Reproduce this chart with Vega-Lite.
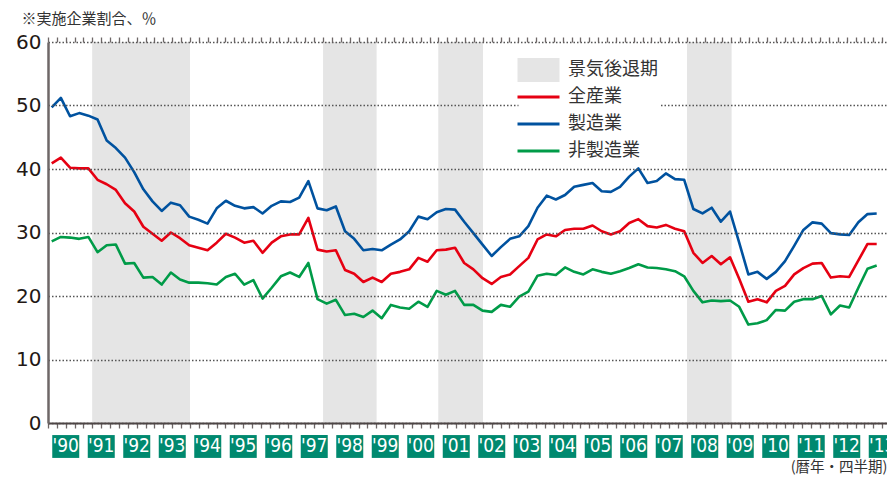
{
  "$schema": "https://vega.github.io/schema/vega-lite/v6.json",
  "background": "white",
  "autosize": {"type": "none"},
  "padding": {"left": 48, "top": 42, "right": 0, "bottom": 56},
  "width": 839,
  "height": 381,
  "title": {"text": "※実施企業割合、％", "anchor": "start", "frame": "bounds", "font": "Noto Sans CJK JP", "fontSize": 15, "fontWeight": "normal", "color": "#333333", "offset": 5, "dx": 6},
  "config": {"view": {"stroke": null}},
  "datasets": {
    "recessions": [
      {"start": 1991.25, "end": 1994.0},
      {"start": 1997.75, "end": 1999.25},
      {"start": 2001.0, "end": 2002.25},
      {"start": 2008.0, "end": 2009.25}
    ],
    "years": [
      {"start": 1990, "end": 1991, "label": "'90"}, {"start": 1991, "end": 1992, "label": "'91"},
      {"start": 1992, "end": 1993, "label": "'92"}, {"start": 1993, "end": 1994, "label": "'93"},
      {"start": 1994, "end": 1995, "label": "'94"}, {"start": 1995, "end": 1996, "label": "'95"},
      {"start": 1996, "end": 1997, "label": "'96"}, {"start": 1997, "end": 1998, "label": "'97"},
      {"start": 1998, "end": 1999, "label": "'98"}, {"start": 1999, "end": 2000, "label": "'99"},
      {"start": 2000, "end": 2001, "label": "'00"}, {"start": 2001, "end": 2002, "label": "'01"},
      {"start": 2002, "end": 2003, "label": "'02"}, {"start": 2003, "end": 2004, "label": "'03"},
      {"start": 2004, "end": 2005, "label": "'04"}, {"start": 2005, "end": 2006, "label": "'05"},
      {"start": 2006, "end": 2007, "label": "'06"}, {"start": 2007, "end": 2008, "label": "'07"},
      {"start": 2008, "end": 2009, "label": "'08"}, {"start": 2009, "end": 2010, "label": "'09"},
      {"start": 2010, "end": 2011, "label": "'10"}, {"start": 2011, "end": 2012, "label": "'11"},
      {"start": 2012, "end": 2013, "label": "'12"}, {"start": 2013, "end": 2014, "label": "'13"}
    ],
    "series": [
      {"t": 1990, "全産業": 40.9, "製造業": 49.7, "非製造業": 28.6},
      {"t": 1990.25, "全産業": 41.8, "製造業": 51.2, "非製造業": 29.3},
      {"t": 1990.5, "全産業": 40.2, "製造業": 48.3, "非製造業": 29.2},
      {"t": 1990.75, "全産業": 40.1, "製造業": 48.8, "非製造業": 29.0},
      {"t": 1991, "全産業": 40.1, "製造業": 48.4, "非製造業": 29.3},
      {"t": 1991.25, "全産業": 38.3, "製造業": 47.8, "非製造業": 26.9},
      {"t": 1991.5, "全産業": 37.6, "製造業": 44.5, "非製造業": 28.0},
      {"t": 1991.75, "全産業": 36.7, "製造業": 43.3, "非製造業": 28.1},
      {"t": 1992, "全産業": 34.6, "製造業": 41.8, "非製造業": 25.1},
      {"t": 1992.25, "全産業": 33.3, "製造業": 39.5, "非製造業": 25.2},
      {"t": 1992.5, "全産業": 30.9, "製造業": 36.8, "非製造業": 22.9},
      {"t": 1992.75, "全産業": 29.8, "製造業": 34.9, "非製造業": 23.0},
      {"t": 1993, "全産業": 28.7, "製造業": 33.4, "非製造業": 21.8},
      {"t": 1993.25, "全産業": 30.0, "製造業": 34.7, "非製造業": 23.7},
      {"t": 1993.5, "全産業": 29.1, "製造業": 34.3, "非製造業": 22.6},
      {"t": 1993.75, "全産業": 28.0, "製造業": 32.5, "非製造業": 22.1},
      {"t": 1994, "全産業": 27.6, "製造業": 32.0, "非製造業": 22.1},
      {"t": 1994.25, "全産業": 27.2, "製造業": 31.4, "非製造業": 22.0},
      {"t": 1994.5, "全産業": 28.4, "製造業": 33.8, "非製造業": 21.8},
      {"t": 1994.75, "全産業": 29.8, "製造業": 35.0, "非製造業": 23.0},
      {"t": 1995, "全産業": 29.2, "製造業": 34.2, "非製造業": 23.5},
      {"t": 1995.25, "全産業": 28.4, "製造業": 33.8, "非製造業": 21.8},
      {"t": 1995.5, "全産業": 28.7, "製造業": 34.0, "非製造業": 22.5},
      {"t": 1995.75, "全産業": 26.8, "製造業": 33.0, "非製造業": 19.6},
      {"t": 1996, "全産業": 28.4, "製造業": 34.2, "非製造業": 21.3},
      {"t": 1996.25, "全産業": 29.4, "製造業": 34.9, "非製造業": 23.1},
      {"t": 1996.5, "全産業": 29.7, "製造業": 34.8, "非製造業": 23.7},
      {"t": 1996.75, "全産業": 29.7, "製造業": 35.5, "非製造業": 23.0},
      {"t": 1997, "全産業": 32.3, "製造業": 38.1, "非製造業": 25.2},
      {"t": 1997.25, "全産業": 27.3, "製造業": 33.8, "非製造業": 19.5},
      {"t": 1997.5, "全産業": 27.0, "製造業": 33.5, "非製造業": 18.8},
      {"t": 1997.75, "全産業": 27.2, "製造業": 34.1, "非製造業": 19.4},
      {"t": 1998, "全産業": 24.1, "製造業": 30.2, "非製造業": 17.0},
      {"t": 1998.25, "全産業": 23.5, "製造業": 29.0, "非製造業": 17.2},
      {"t": 1998.5, "全産業": 22.2, "製造業": 27.2, "非製造業": 16.7},
      {"t": 1998.75, "全産業": 22.9, "製造業": 27.4, "非製造業": 17.7},
      {"t": 1999, "全産業": 22.2, "製造業": 27.2, "非製造業": 16.5},
      {"t": 1999.25, "全産業": 23.5, "製造業": 28.1, "非製造業": 18.6},
      {"t": 1999.5, "全産業": 23.8, "製造業": 28.9, "非製造業": 18.2},
      {"t": 1999.75, "全産業": 24.2, "製造業": 30.2, "非製造業": 18.0},
      {"t": 2000, "全産業": 26.0, "製造業": 32.5, "非製造業": 19.1},
      {"t": 2000.25, "全産業": 25.4, "製造業": 32.1, "非製造業": 18.3},
      {"t": 2000.5, "全産業": 27.2, "製造業": 33.2, "非製造業": 20.8},
      {"t": 2000.75, "全産業": 27.3, "製造業": 33.7, "非製造業": 20.2},
      {"t": 2001, "全産業": 27.6, "製造業": 33.6, "非製造業": 20.8},
      {"t": 2001.25, "全産業": 25.2, "製造業": 31.7, "非製造業": 18.6},
      {"t": 2001.5, "全産業": 24.2, "製造業": 29.9, "非製造業": 18.6},
      {"t": 2001.75, "全産業": 22.8, "製造業": 28.1, "非製造業": 17.7},
      {"t": 2002, "全産業": 21.9, "製造業": 26.3, "非製造業": 17.5},
      {"t": 2002.25, "全産業": 23.0, "製造業": 27.7, "非製造業": 18.6},
      {"t": 2002.5, "全産業": 23.4, "製造業": 29.0, "非製造業": 18.3},
      {"t": 2002.75, "全産業": 24.7, "製造業": 29.4, "非製造業": 19.9},
      {"t": 2003, "全産業": 26.0, "製造業": 31.0, "非製造業": 20.7},
      {"t": 2003.25, "全産業": 28.9, "製造業": 33.9, "非製造業": 23.2},
      {"t": 2003.5, "全産業": 29.7, "製造業": 35.8, "非製造業": 23.5},
      {"t": 2003.75, "全産業": 29.4, "製造業": 35.2, "非製造業": 23.3},
      {"t": 2004, "全産業": 30.4, "製造業": 35.9, "非製造業": 24.5},
      {"t": 2004.25, "全産業": 30.6, "製造業": 37.2, "非製造業": 23.8},
      {"t": 2004.5, "全産業": 30.6, "製造業": 37.5, "非製造業": 23.4},
      {"t": 2004.75, "全産業": 31.1, "製造業": 37.8, "非製造業": 24.2},
      {"t": 2005, "全産業": 30.2, "製造業": 36.5, "非製造業": 23.8},
      {"t": 2005.25, "全産業": 29.7, "製造業": 36.4, "非製造業": 23.5},
      {"t": 2005.5, "全産業": 30.2, "製造業": 37.2, "非製造業": 23.9},
      {"t": 2005.75, "全産業": 31.5, "製造業": 38.8, "非製造業": 24.4},
      {"t": 2006, "全産業": 32.1, "製造業": 40.1, "非製造業": 25.0},
      {"t": 2006.25, "全産業": 31.0, "製造業": 37.8, "非製造業": 24.5},
      {"t": 2006.5, "全産業": 30.8, "製造業": 38.1, "非製造業": 24.4},
      {"t": 2006.75, "全産業": 31.2, "製造業": 39.3, "非製造業": 24.2},
      {"t": 2007, "全産業": 30.6, "製造業": 38.4, "非製造業": 23.9},
      {"t": 2007.25, "全産業": 30.2, "製造業": 38.3, "非製造業": 23.1},
      {"t": 2007.5, "全産業": 26.8, "製造業": 33.7, "非製造業": 20.8},
      {"t": 2007.75, "全産業": 25.2, "製造業": 33.0, "非製造業": 19.0},
      {"t": 2008, "全産業": 26.3, "製造業": 33.9, "非製造業": 19.3},
      {"t": 2008.25, "全産業": 25.0, "製造業": 31.7, "非製造業": 19.2},
      {"t": 2008.5, "全産業": 26.1, "製造業": 33.3, "非製造業": 19.3},
      {"t": 2008.75, "全産業": 22.7, "製造業": 28.4, "非製造業": 18.3},
      {"t": 2009, "全産業": 19.1, "製造業": 23.4, "非製造業": 15.5},
      {"t": 2009.25, "全産業": 19.5, "製造業": 23.8, "非製造業": 15.7},
      {"t": 2009.5, "全産業": 19.0, "製造業": 22.7, "非製造業": 16.2},
      {"t": 2009.75, "全産業": 20.8, "製造業": 23.8, "非製造業": 17.8},
      {"t": 2010, "全産業": 21.6, "製造業": 25.5, "非製造業": 17.7},
      {"t": 2010.25, "全産業": 23.4, "製造業": 27.9, "非製造業": 19.1},
      {"t": 2010.5, "全産業": 24.4, "製造業": 30.4, "非製造業": 19.5},
      {"t": 2010.75, "全産業": 25.1, "製造業": 31.6, "非製造業": 19.5},
      {"t": 2011, "全産業": 25.2, "製造業": 31.4, "非製造業": 20.0},
      {"t": 2011.25, "全産業": 22.9, "製造業": 29.9, "非製造業": 17.1},
      {"t": 2011.5, "全産業": 23.1, "製造業": 29.7, "非製造業": 18.5},
      {"t": 2011.75, "全産業": 23.0, "製造業": 29.6, "非製造業": 18.2},
      {"t": 2012, "全産業": 25.6, "製造業": 31.6, "非製造業": 21.3},
      {"t": 2012.25, "全産業": 28.2, "製造業": 32.9, "非製造業": 24.3},
      {"t": 2012.5, "全産業": 28.2, "製造業": 33.0, "非製造業": 24.8}
    ]
  },
  "resolve": {"scale": {"x": "independent"}, "axis": {"x": "independent"}},
  "layer": [
    {
      "data": {"name": "recessions"},
      "mark": {"type": "rect", "color": "#e5e5e5"},
      "encoding": {
        "x": {
          "field": "start", "type": "quantitative",
          "scale": {"domain": [1990, 2013.634], "nice": false, "zero": false},
          "axis": {
            "orient": "bottom", "labels": false, "grid": false,
            "values": [1990,1990.25,1990.5,1990.75,1991,1991.25,1991.5,1991.75,1992,1992.25,1992.5,1992.75,1993,1993.25,1993.5,1993.75,1994,1994.25,1994.5,1994.75,1995,1995.25,1995.5,1995.75,1996,1996.25,1996.5,1996.75,1997,1997.25,1997.5,1997.75,1998,1998.25,1998.5,1998.75,1999,1999.25,1999.5,1999.75,2000,2000.25,2000.5,2000.75,2001,2001.25,2001.5,2001.75,2002,2002.25,2002.5,2002.75,2003,2003.25,2003.5,2003.75,2004,2004.25,2004.5,2004.75,2005,2005.25,2005.5,2005.75,2006,2006.25,2006.5,2006.75,2007,2007.25,2007.5,2007.75,2008,2008.25,2008.5,2008.75,2009,2009.25,2009.5,2009.75,2010,2010.25,2010.5,2010.75,2011,2011.25,2011.5,2011.75,2012,2012.25,2012.5,2012.75,2013,2013.25,2013.5],
            "domain": true, "domainColor": "#4d4545", "domainWidth": 2,
            "ticks": true, "tickColor": "#6e6767", "tickWidth": 1.3, "tickSize": 5,
            "encode": {"ticks": {"update": {"y": {"value": 0}, "y2": {"signal": "datum.value % 1 === 0 ? -10 : -5"}}}},
            "title": "(暦年・四半期)", "titleAnchor": "end", "titleFont": "Noto Sans CJK JP", "titleFontSize": 14.5, "titleFontWeight": "normal", "titleColor": "#333333", "titlePadding": 32,
            "zindex": 1
          }
        },
        "x2": {"field": "end"}
      }
    },
    {
      "data": {"name": "recessions"},
      "mark": {"type": "rect", "color": "#e5e5e5"},
      "encoding": {
        "x": {
          "field": "start", "type": "quantitative",
          "scale": {"domain": [1990, 2013.634], "nice": false, "zero": false},
          "axis": {
            "orient": "top", "title": null, "labels": false, "grid": false, "domain": false,
            "values": [1990,1990.25,1990.5,1990.75,1991,1991.25,1991.5,1991.75,1992,1992.25,1992.5,1992.75,1993,1993.25,1993.5,1993.75,1994,1994.25,1994.5,1994.75,1995,1995.25,1995.5,1995.75,1996,1996.25,1996.5,1996.75,1997,1997.25,1997.5,1997.75,1998,1998.25,1998.5,1998.75,1999,1999.25,1999.5,1999.75,2000,2000.25,2000.5,2000.75,2001,2001.25,2001.5,2001.75,2002,2002.25,2002.5,2002.75,2003,2003.25,2003.5,2003.75,2004,2004.25,2004.5,2004.75,2005,2005.25,2005.5,2005.75,2006,2006.25,2006.5,2006.75,2007,2007.25,2007.5,2007.75,2008,2008.25,2008.5,2008.75,2009,2009.25,2009.5,2009.75,2010,2010.25,2010.5,2010.75,2011,2011.25,2011.5,2011.75,2012,2012.25,2012.5,2012.75,2013,2013.25,2013.5],
            "ticks": true, "tickColor": "#6e6767", "tickWidth": 1.3, "tickSize": 5,
            "encode": {"ticks": {"update": {"y": {"value": 0}, "y2": {"signal": "datum.value % 1 === 0 ? 10 : 5"}}}},
            "zindex": 1
          }
        },
        "x2": {"field": "end"}
      }
    },
    {
      "data": {"name": "years"},
      "mark": {"type": "rect", "color": "#00896f", "xOffset": 4.25, "x2Offset": -4.25},
      "encoding": {
        "x": {"field": "start", "type": "quantitative", "scale": {"domain": [1990, 2013.634], "nice": false, "zero": false}, "axis": null},
        "x2": {"field": "end"},
        "y": {"datum": -1.9, "type": "quantitative"},
        "y2": {"datum": -5.5}
      }
    },
    {
      "data": {"name": "years"},
      "mark": {"type": "text", "color": "white", "font": "Liberation Sans Narrow, DejaVu Sans Condensed, sans-serif", "fontSize": 19, "xOffset": 17.75, "baseline": "middle", "align": "center"},
      "encoding": {
        "x": {"field": "start", "type": "quantitative", "scale": {"domain": [1990, 2013.634], "nice": false, "zero": false}, "axis": null},
        "y": {"datum": -3.7, "type": "quantitative"},
        "text": {"field": "label"}
      }
    },
    {
      "data": {"name": "series"},
      "transform": [{"fold": ["全産業", "製造業", "非製造業"], "as": ["series", "value"]}],
      "mark": {"type": "line", "strokeWidth": 2.6, "strokeJoin": "round"},
      "encoding": {
        "x": {"field": "t", "type": "quantitative", "scale": {"domain": [1989.8991, 2012.781], "nice": false, "zero": false}, "axis": null},
        "y": {
          "field": "value", "type": "quantitative",
          "scale": {"domain": [0, 60], "nice": false, "zero": true},
          "axis": {
            "title": null, "values": [-3.4, 0, 10, 20, 30, 40, 50, 60],
            "labelExpr": "datum.value < 0 ? '(%)' : datum.label",
            "grid": true, "gridDash": [1.5, 2], "gridColor": "#555555", "gridWidth": 1.3,
            "gridOpacity": {"condition": {"test": "datum.value < 0", "value": 0}, "value": 1},
            "domain": true, "domainColor": "#6e6767", "domainWidth": 2.5,
            "ticks": false, "tickSize": 0,
            "labelFont": {"condition": {"test": "datum.value < 0", "value": "Liberation Sans"}, "value": "DejaVu Sans"},
            "labelFontSize": {"condition": {"test": "datum.value < 0", "value": 16}, "value": 20},
            "labelColor": "#231815", "labelPadding": 7,
            "zindex": 1
          }
        },
        "color": {
          "field": "series", "type": "nominal",
          "scale": {"domain": ["景気後退期", "全産業", "製造業", "非製造業"], "range": ["#e5e5e5", "#e60012", "#00529f", "#009b48"]},
          "legend": {
            "orient": "none", "legendX": 470.5, "legendY": 17, "title": null,
            "fillColor": "white", "padding": 2, "zindex": 2,
            "symbolSize": 576, "symbolStrokeWidth": 3,
            "labelFont": "Noto Sans CJK JP", "labelFontSize": 18, "labelColor": "#333333",
            "labelOffset": 29.5, "rowPadding": 6, "gridAlign": "all",
            "encode": {
              "symbols": {
                "update": {
                  "shape": {"signal": "datum.value === '景気後退期' ? 'M-1,-1H2.5V1H-1Z' : 'M-1,0H2.5'"},
                  "fill": {"signal": "datum.value === '景気後退期' ? '#e5e5e5' : 'transparent'"},
                  "stroke": {"signal": "datum.value === '全産業' ? '#e60012' : datum.value === '製造業' ? '#00529f' : datum.value === '非製造業' ? '#009b48' : 'transparent'"},
                  "strokeWidth": {"signal": "datum.value === '景気後退期' ? 0 : 3"},
                  "opacity": {"value": 1}
                }
              }
            }
          }
        }
      }
    }
  ]
}
